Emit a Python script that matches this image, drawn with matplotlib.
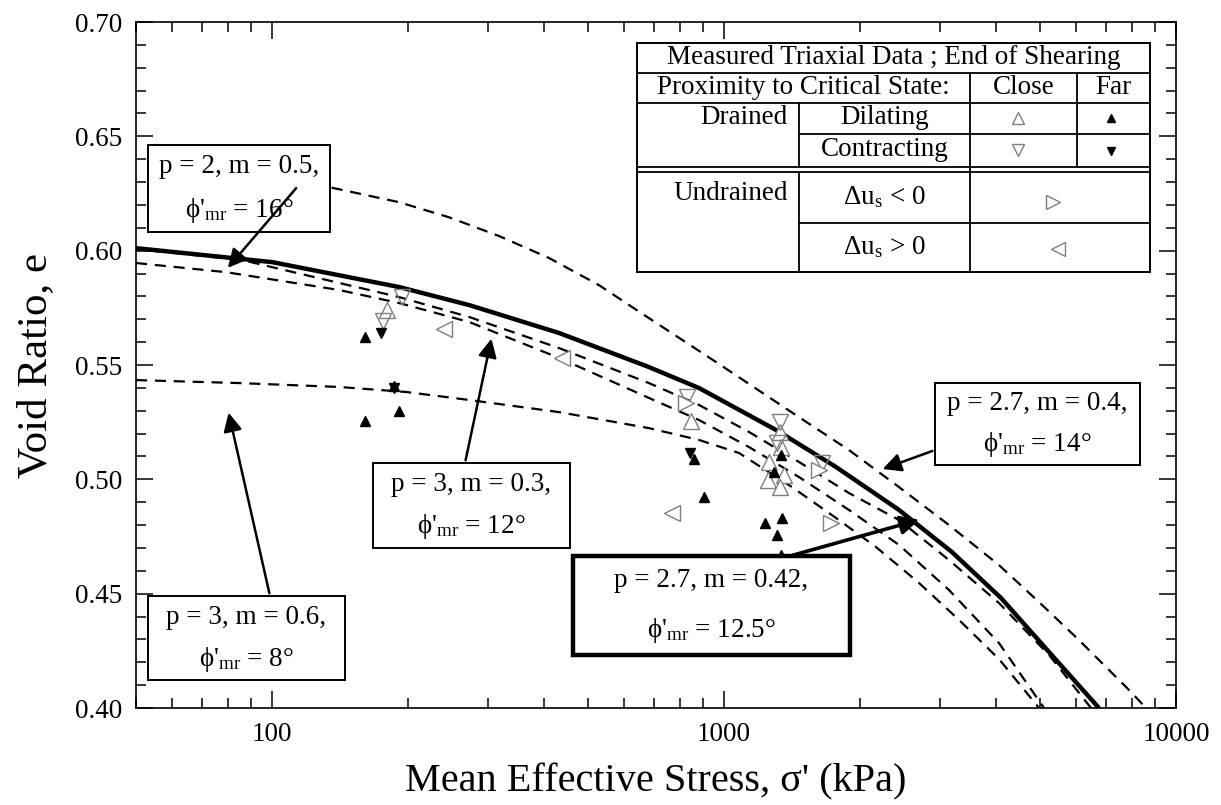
import numpy as np
import matplotlib.pyplot as plt
from matplotlib.patches import Rectangle, FancyArrowPatch
from matplotlib.lines import Line2D

plt.rcParams['font.family'] = ['Liberation Serif', 'DejaVu Serif']
plt.rcParams['mathtext.fontset'] = 'custom'
plt.rcParams['mathtext.rm'] = 'Liberation Serif'
plt.rcParams['mathtext.it'] = 'Liberation Serif:italic'

# model curves: mean effective stress (kPa) vs void ratio
# p = 2.7, m = 0.42 (bold)
solid_x = [50, 100, 191, 273, 431.5, 682, 881, 1303, 1769, 2439, 3194, 4101, 5236, 6754]
solid_e = [0.6011, 0.5950, 0.5841, 0.5762, 0.5640, 0.5491, 0.5399, 0.5216, 0.5054, 0.4866,
           0.4682, 0.4481, 0.4245, 0.400]
# p = 2.7, m = 0.4
d1_x = [92.6, 133.7, 191, 246.4, 317.8, 410, 529, 682, 960, 1465, 1890, 2439, 3146, 4058,
        4977, 6101, 7870, 8583]
d1_e = [0.6326, 0.6278, 0.6212, 0.6146, 0.6064, 0.5968, 0.5849, 0.5705, 0.5513, 0.5272, 0.5128,
        0.4966, 0.4800, 0.4625, 0.4463, 0.4297, 0.4079, 0.400]
# p = 3, m = 0.3
d3_x = [50, 85.8, 118.9, 191, 273, 431.5, 682, 881, 1136, 1465, 1890, 2439, 3146, 4058, 5236, 6486]
d3_e = [0.6007, 0.5959, 0.5893, 0.5797, 0.5710, 0.5574, 0.5421, 0.5325, 0.5207, 0.5076, 0.4940,
        0.4822, 0.4647, 0.4459, 0.4232, 0.400]
# p = 2, m = 0.5
d2_x = [50, 79.1, 140.7, 191, 273, 431.5, 682, 881, 1136, 1465, 1890, 2439, 3146, 4058, 5105]
d2_e = [0.5946, 0.5906, 0.5828, 0.5771, 0.5688, 0.5531, 0.5356, 0.5259, 0.5141, 0.5010, 0.4866,
        0.4713, 0.4516, 0.4284, 0.400]
# p = 3, m = 0.6
d4_x = [50, 84.5, 140.7, 197.9, 273, 431.5, 682, 881, 1080, 1414, 1769, 2169, 2700, 3311, 4058, 4977]
d4_e = [0.5434, 0.5421, 0.5404, 0.5382, 0.5347, 0.5294, 0.5224, 0.5172, 0.5115, 0.4966, 0.4831,
        0.4704, 0.4547, 0.4385, 0.4214, 0.400]

# measured points at end of shearing
dil_close_x = [180, 846, 1330, 1340, 1258, 1360, 1250, 1330]
dil_close_e = [0.574, 0.5255, 0.5207, 0.5141, 0.5076, 0.5019, 0.4997, 0.4966]
con_close_x = [194, 176, 828, 1330, 1310, 1650]
con_close_e = [0.5797, 0.5692, 0.536, 0.525, 0.5159, 0.507]
dil_far_x = [160.6, 186, 191, 160.6, 860, 903, 1340, 1290, 1232, 1345, 1310, 1340]
dil_far_e = [0.5622, 0.5408, 0.530, 0.5255, 0.5089, 0.4923, 0.5106, 0.5032, 0.4809, 0.483, 0.4756, 0.4669]
con_far_x = [174, 186, 842]
con_far_e = [0.564, 0.540, 0.5115]
und_neg_x = [825, 1623, 1725]
und_neg_e = [0.5334, 0.5041, 0.4809]
und_pos_x = [240, 438, 768]
und_pos_e = [0.5657, 0.553, 0.4853]

W, H = 1221, 805
fig = plt.figure(figsize=(W / 100, H / 100), dpi=100)
ax = fig.add_axes([136 / W, 1 - 708 / H, (1176 - 136) / W, (708 - 22) / H])

dash = (0, (5, 3.5))
ax.plot(solid_x, solid_e, color='black', lw=3.2, solid_capstyle='butt', zorder=3)
for xs, es in [(d1_x, d1_e), (d2_x, d2_e), (d3_x, d3_e), (d4_x, d4_e)]:
    ax.plot(xs, es, color='black', lw=1.6, linestyle=dash, zorder=2)

grey = '#7f7f7f'
ax.plot(dil_close_x, dil_close_e, '^', ms=11, mfc='white', mec=grey, mew=1.0, ls='none', zorder=4)
ax.plot(con_close_x, con_close_e, 'v', ms=11, mfc='none', mec=grey, mew=1.0, ls='none', zorder=4)
ax.plot(und_neg_x, und_neg_e, '>', ms=12, mfc='white', mec=grey, mew=1.0, ls='none', zorder=4)
ax.plot(und_pos_x, und_pos_e, '<', ms=12, mfc='white', mec=grey, mew=1.0, ls='none', zorder=4)
ax.plot(dil_far_x, dil_far_e, '^', ms=7, color='black', ls='none', zorder=5)
ax.plot(con_far_x, con_far_e, 'v', ms=7, color='black', ls='none', zorder=5)

ax.set_xscale('log')
ax.set_xlim(50, 10000)
ax.set_ylim(0.40, 0.70)
ax.set_yticks(np.arange(0.40, 0.701, 0.05))
ax.set_yticks(np.arange(0.40, 0.701, 0.01), minor=True)
ax.yaxis.set_major_formatter(plt.FormatStrFormatter('%.2f'))
ax.set_xticks([100, 1000, 10000])
ax.set_xticklabels(['100', '1000', '10000'])
ax.tick_params(which='both', direction='in', top=True, right=True, labelsize=19.5, width=1.1)
ax.tick_params(which='major', length=12, pad=10)
ax.tick_params(which='minor', length=7)
for s in ax.spines.values():
    s.set_linewidth(1.2)

ax.set_xlabel("Mean Effective Stress, σ' (kPa)", fontsize=29, labelpad=12)
ax.set_ylabel("Void Ratio, e", fontsize=31, labelpad=14)


def fxy(px, py):
    return px / W, 1 - py / H


def box(x0, y0, x1, y1, lines, lw=1.4):
    fig.patches.append(Rectangle(fxy(x0, y1), (x1 - x0) / W, (y1 - y0) / H,
                                 transform=fig.transFigure, facecolor='white',
                                 edgecolor='black', lw=lw, zorder=6))
    cx = (x0 + x1) / 2
    n = len(lines)
    for i, t in enumerate(lines):
        yy = y0 + (y1 - y0) * (i + 0.5) / n
        fig.text(*fxy(cx, yy), t, ha='center', va='center', fontsize=19.5, zorder=7)


def arrow(x0, y0, x1, y1, lw=1.8):
    fig.patches.append(FancyArrowPatch(fxy(x0, y0), fxy(x1, y1), transform=fig.transFigure,
                                       arrowstyle='-|>', mutation_scale=28, lw=lw,
                                       color='black', zorder=8))


phi = r"ϕ'$_{\rm mr}$"
box(148, 145, 330, 232, ["p = 2, m = 0.5,", phi + " = 16°"])
arrow(298, 186, 226, 270)
box(935, 383, 1140, 465, ["p = 2.7, m = 0.4,", phi + " = 14°"])
arrow(935, 450, 880, 470)
box(373, 463, 570, 548, ["p = 3, m = 0.3,", phi + " = 12°"])
arrow(465, 463, 492, 336)
box(148, 596, 345, 680, ["p = 3, m = 0.6,", phi + " = 8°"])
arrow(270, 596, 228, 410)
box(573, 556, 850, 655, ["p = 2.7, m = 0.42,", phi + " = 12.5°"], lw=3.2)
arrow(790, 556, 922, 519, lw=2.6)

# legend table
tl, tr, tt, tb = 637, 1150, 43, 272
cols = [637, 799, 970, 1077, 1150]
rows = [43, 73, 103, 134, 167, 172, 223, 272]
fig.patches.append(Rectangle(fxy(tl, tb), (tr - tl) / W, (tb - tt) / H, transform=fig.transFigure,
                             facecolor='white', edgecolor='black', lw=1.4, zorder=6))


def hline(y, x0, x1):
    fig.add_artist(Line2D([x0 / W, x1 / W], [1 - y / H] * 2, color='black', lw=1.3, zorder=7))


def vline(x, y0, y1):
    fig.add_artist(Line2D([x / W] * 2, [1 - y0 / H, 1 - y1 / H], color='black', lw=1.3, zorder=7))


hline(rows[1], tl, tr)
hline(rows[2], tl, tr)
hline(rows[3], cols[1], tr)
hline(rows[4], tl, tr)
hline(rows[5], tl, tr)
hline(rows[6], cols[1], tr)
vline(cols[2], rows[1], tb)
vline(cols[3], rows[1], rows[4])
vline(cols[1], rows[2], rows[4])
vline(cols[1], rows[5], tb)

ts = 19.5


def ttext(x, y, s, ha='center'):
    fig.text(*fxy(x, y), s, ha=ha, va='center', fontsize=ts, zorder=8)


ttext((tl + tr) / 2, 58, "Measured Triaxial Data ; End of Shearing")
ttext((tl + cols[2]) / 2, 88, "Proximity to Critical State:")
ttext((cols[2] + cols[3]) / 2, 88, "Close")
ttext((cols[3] + tr) / 2, 88, "Far")
ttext(788, 118, "Drained", ha='right')
ttext((cols[1] + cols[2]) / 2, 118, "Dilating")
ttext((cols[1] + cols[2]) / 2, 150, "Contracting")
ttext(788, 194, "Undrained", ha='right')
ttext((cols[1] + cols[2]) / 2, 197, r"Δu$_{\rm s}$ < 0")
ttext((cols[1] + cols[2]) / 2, 247, r"Δu$_{\rm s}$ > 0")


def tmark(x, y, m, ms, filled):
    fig.add_artist(Line2D([x / W], [1 - y / H], marker=m, ms=ms, ls='none',
                          mfc='black' if filled else 'white',
                          mec='black' if filled else grey, mew=1.0, zorder=9))


tmark(1018, 118, '^', 9, False)
tmark(1111, 118, '^', 6, True)
tmark(1018, 150, 'v', 9, False)
tmark(1111, 151, 'v', 6, True)
tmark(1053, 202, '>', 10, False)
tmark(1058, 249, '<', 10, False)

fig.savefig('out.png', dpi=100)
